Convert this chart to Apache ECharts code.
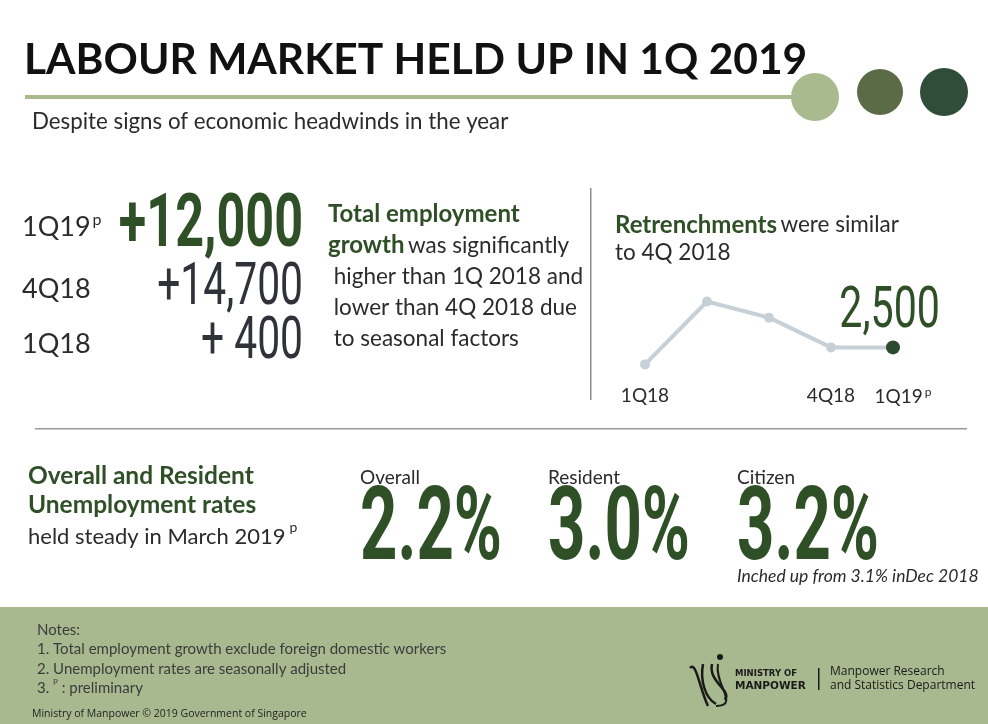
<!DOCTYPE html>
<html>
<head>
<meta charset="utf-8">
<title>Labour Market 1Q 2019</title>
<script src="https://cdn.jsdelivr.net/npm/echarts@6/dist/echarts.min.js"></script>
<style>
  html, body { margin: 0; padding: 0; background: #fff; }
  #main { width: 988px; height: 724px; }
</style>
</head>
<body>
<div id="main"></div>
<script type="text/javascript">
// retrenchments line
var retrenchQuarters = ['1Q18', '2Q18', '3Q18', '4Q18', '1Q19'];
var retrenchValues = [2100, 3580, 3200, 2500, 2500];
var retrenchTicks = ['1Q18', '4Q18', '1Q19'];

// employment growth
var growthQuarters = ['1Q19', '4Q18', '1Q18'];
var growthValues = [12000, 14700, 400];

// unemployment rates
var rateNames = ['Overall', 'Resident', 'Citizen'];
var rateValues = [2.2, 3.0, 3.2];

var GREEN = '#2f4f27';
var TEXT = '#2b2b2b';
var FONT = 'Lato, "Open Sans", sans-serif';
var BIG = 'Roboto, "Liberation Sans", sans-serif';

function fmt(n) {
    return n.toString().replace(/\B(?=(\d{3})+(?!\d))/g, ',');
}

var graphics = [];

// header
graphics.push({ type: 'text', x: 24, y: 60, style: { text: 'LABOUR MARKET HELD UP IN 1Q 2019', font: 'bold 42.5px ' + FONT, fill: '#111', textVerticalAlign: 'middle' } });
graphics.push({ type: 'rect', shape: { x: 25, y: 95, width: 780, height: 4 }, style: { fill: '#a9ba8e' } });
graphics.push({ type: 'circle', shape: { cx: 815, cy: 97, r: 24 }, style: { fill: '#a9ba8e' } });
graphics.push({ type: 'circle', shape: { cx: 880, cy: 92, r: 23 }, style: { fill: '#5b6b46' } });
graphics.push({ type: 'circle', shape: { cx: 944, cy: 92, r: 24 }, style: { fill: '#2f4d38' } });
graphics.push({ type: 'text', x: 32, y: 122, style: { text: 'Despite signs of economic headwinds in the year', font: '22.3px ' + FONT, fill: TEXT, textVerticalAlign: 'middle' } });

// employment growth block
var rowY = [227, 289, 344];
var numY = [227, 289, 343];
var rowSize = [74, 60, 60];
for (var i = 0; i < growthQuarters.length; i++) {
    var q = growthQuarters[i];
    graphics.push({
        type: 'text', x: 22, y: rowY[i],
        style: {
            text: i === 0 ? '{a|' + q + '}{s|p}' : '{a|' + q + '}',
            rich: {
                a: { font: '27px ' + FONT, fill: TEXT },
                s: { font: '16px ' + FONT, fill: TEXT, verticalAlign: 'top', padding: [0, 0, 14, 2] }
            },
            textVerticalAlign: 'middle'
        }
    });
    var label = (i === 2 ? '+ ' : '+') + fmt(growthValues[i]);
    graphics.push({
        type: 'text', x: 303, y: numY[i], scaleX: 0.68,
        style: {
            text: label,
            font: (i === 0 ? 'bold ' : '') + rowSize[i] + 'px ' + BIG,
            fill: i === 0 ? GREEN : '#30323a',
            textAlign: 'right', textVerticalAlign: 'middle'
        }
    });
}

graphics.push({
    type: 'text', x: 328, y: 199,
    style: {
        text: '{b|Total employment}\n{b|growth} {n|was significantly}\n{n| higher than 1Q 2018 and}\n{n| lower than 4Q 2018 due}\n{n| to seasonal factors}',
        rich: {
            b: { font: 'bold 24px ' + FONT, fill: GREEN, lineHeight: 31 },
            n: { font: '22.5px ' + FONT, fill: TEXT, lineHeight: 31 }
        }
    }
});

// separators
graphics.push({ type: 'rect', shape: { x: 590, y: 188, width: 1.5, height: 212 }, style: { fill: '#8d8d8d' } });
graphics.push({ type: 'rect', shape: { x: 35, y: 428, width: 932, height: 1.5 }, style: { fill: '#9a9a9a' } });

// retrenchment text
graphics.push({
    type: 'text', x: 615, y: 211,
    style: {
        text: '{b|Retrenchments} {n|were similar}\n{n|to 4Q 2018}',
        rich: {
            b: { font: 'bold 24px ' + FONT, fill: GREEN, lineHeight: 28 },
            n: { font: '22.5px ' + FONT, fill: TEXT, lineHeight: 28 }
        }
    }
});
graphics.push({
    type: 'text', x: 940, y: 312, scaleX: 0.71,
    style: { text: fmt(retrenchValues[retrenchValues.length - 1]), font: '58px ' + BIG, fill: GREEN, textAlign: 'right', textVerticalAlign: 'middle' }
});

// unemployment block
graphics.push({
    type: 'text', x: 28, y: 462,
    style: {
        text: '{b|Overall and Resident}\n{b|Unemployment rates}\n{n|held steady in March 2019}{s|p}',
        rich: {
            b: { font: 'bold 24.5px ' + FONT, fill: GREEN, lineHeight: 29 },
            n: { font: '22px ' + FONT, fill: TEXT, lineHeight: 34 },
            s: { font: '14px ' + FONT, fill: TEXT, verticalAlign: 'top', padding: [0, 0, 12, 4], lineHeight: 34 }
        }
    }
});
var rateX = [360, 548, 737];
for (var j = 0; j < rateNames.length; j++) {
    graphics.push({ type: 'text', x: rateX[j], y: 478, style: { text: rateNames[j], font: '19px ' + FONT, fill: TEXT, textVerticalAlign: 'middle' } });
    graphics.push({
        type: 'text', x: rateX[j], y: 533, scaleX: 0.64,
        style: { text: rateValues[j].toFixed(1) + '%', font: 'bold 102px ' + BIG, fill: GREEN, textVerticalAlign: 'middle' }
    });
}
graphics.push({ type: 'text', x: 737, y: 576, style: { text: 'Inched up from 3.1% inDec 2018', font: 'italic 17.5px ' + FONT, fill: TEXT, textVerticalAlign: 'middle' } });

// footer
graphics.push({ type: 'rect', shape: { x: 0, y: 607, width: 988, height: 117 }, style: { fill: '#a8b98f' } });
graphics.push({
    type: 'text', x: 37, y: 620,
    style: {
        text: 'Notes:\n1. Total employment growth exclude foreign domestic workers\n2. Unemployment rates are seasonally adjusted\n3. {s|P} : preliminary',
        font: '15px ' + FONT, fill: '#3c3c3c', lineHeight: 19.5,
        rich: { s: { font: '8px ' + FONT, fill: '#3c3c3c', verticalAlign: 'top', padding: [0, 0, 8, 0] } }
    }
});
graphics.push({ type: 'text', x: 32, y: 714, style: { text: 'Ministry of Manpower \u00a9 2019 Government of Singapore', font: '10.5px "Open Sans", sans-serif', fill: '#222', textVerticalAlign: 'middle' } });

// logo
graphics.push({ type: 'circle', shape: { cx: 720, cy: 657, r: 3 }, style: { fill: '#1a1a1a' } });
graphics.push({ type: 'bezierCurve', shape: { x1: 690, y1: 668, x2: 708, y2: 706, cpx1: 696, cpy1: 660, cpx2: 700, cpy2: 690 }, style: { stroke: '#1a1a1a', lineWidth: 2.5, fill: null } });
graphics.push({ type: 'bezierCurve', shape: { x1: 703, y1: 664, x2: 716, y2: 704, cpx1: 700, cpy1: 680, cpx2: 705, cpy2: 698 }, style: { stroke: '#1a1a1a', lineWidth: 2.5, fill: null } });
graphics.push({ type: 'bezierCurve', shape: { x1: 712, y1: 664, x2: 725, y2: 700, cpx1: 708, cpy1: 682, cpx2: 732, cpy2: 690 }, style: { stroke: '#1a1a1a', lineWidth: 2.5, fill: null } });
graphics.push({ type: 'bezierCurve', shape: { x1: 718, y1: 664, x2: 716, y2: 706, cpx1: 714, cpy1: 684, cpx2: 740, cpy2: 706 }, style: { stroke: '#1a1a1a', lineWidth: 2, fill: null } });
graphics.push({ type: 'text', x: 735, y: 674, style: { text: 'MINISTRY OF', font: 'bold 8.5px "DejaVu Sans", sans-serif', fill: '#1a1a1a', textVerticalAlign: 'middle' } });
graphics.push({ type: 'text', x: 735, y: 686, style: { text: 'MANPOWER', font: 'bold 10.5px "DejaVu Sans", sans-serif', fill: '#1a1a1a', textVerticalAlign: 'middle' } });
graphics.push({ type: 'rect', shape: { x: 818, y: 668, width: 1.5, height: 22 }, style: { fill: '#1a1a1a' } });
graphics.push({ type: 'text', x: 830, y: 672, style: { text: 'Manpower Research', font: '12px "Open Sans", sans-serif', fill: '#1a1a1a', textVerticalAlign: 'middle' } });
graphics.push({ type: 'text', x: 830, y: 686, style: { text: 'and Statistics Department', font: '12px "Open Sans", sans-serif', fill: '#1a1a1a', textVerticalAlign: 'middle' } });

var myChart = echarts.init(document.getElementById('main'));
var option = {
    animation: false,
    backgroundColor: '#fff',
    grid: { left: 645, right: 95, top: 290, height: 85 },
    xAxis: {
        type: 'category',
        boundaryGap: false,
        data: retrenchQuarters,
        axisLine: { show: false },
        axisTick: { show: false },
        axisLabel: {
            interval: 0,
            margin: 11,
            color: TEXT,
            fontFamily: 'Lato',
            fontSize: 19,
            formatter: function (v, idx) {
                if (retrenchTicks.indexOf(v) < 0) return '';
                return idx === retrenchQuarters.length - 1 ? '{c|' + v + '}{s|p}' : '{a|' + v + '}';
            },
            rich: {
                a: { fontFamily: 'Lato', fontSize: 19, color: TEXT },
                c: { fontFamily: 'Lato', fontSize: 19, color: TEXT, padding: [0, 0, 0, 20] },
                s: { fontFamily: 'Lato', fontSize: 12, color: TEXT, verticalAlign: 'top', padding: [0, 0, 10, 2] }
            }
        }
    },
    yAxis: { type: 'value', min: 1850, max: 3850, show: false },
    series: [{
        type: 'line',
        data: retrenchValues.map(function (v, k) {
            if (k === retrenchValues.length - 1) {
                return { value: v, symbolSize: 14, itemStyle: { color: '#2b4a30' } };
            }
            return v;
        }),
        symbol: 'circle',
        symbolSize: 10,
        lineStyle: { color: '#c8d0d7', width: 4 },
        itemStyle: { color: '#c8d0d7' }
    }],
    graphic: graphics
};
myChart.setOption(option);
</script>
</body>
</html>
